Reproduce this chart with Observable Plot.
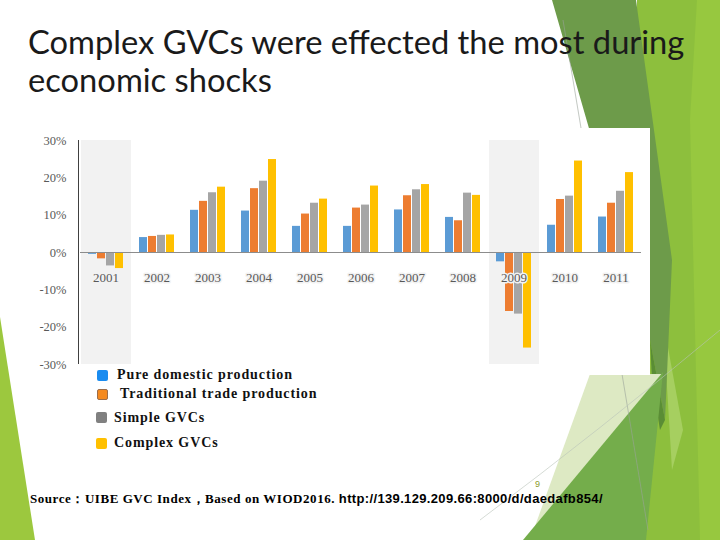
<!DOCTYPE html>
<html>
<head>
<meta charset="utf-8">
<script src="https://cdn.jsdelivr.net/npm/d3@7"></script>
<script src="https://cdn.jsdelivr.net/npm/@observablehq/plot@0.6"></script>
<style>
  html, body { margin: 0; padding: 0; background: #fff; }
  #slide { position: relative; width: 720px; height: 540px; overflow: hidden; background: #fff; }
  #deco { position: absolute; left: 0; top: 0; }
  #title { position: absolute; left: 28px; top: 23px; font-family: Lato, sans-serif; font-size: 32.7px; line-height: 38px; color: #1a1a1a; white-space: nowrap; }
  #chart { position: absolute; left: 30px; top: 128px; }
  #yline { position: absolute; left: 78px; top: 140px; width: 1px; height: 224px; background: #404040; }
  .leg { position: absolute; font-family: "Liberation Serif", serif; font-weight: bold; font-size: 14px; letter-spacing: 0.9px; color: #111; white-space: nowrap; line-height: 16px; }
  .sw { position: absolute; width: 11px; height: 11px; border-radius: 2px; }
  #source { position: absolute; left: 30px; top: 491px; font-size: 13px; line-height: 16px; color: #000; white-space: nowrap; font-weight: bold; }
  #source .s1 { font-family: "Liberation Serif", serif; letter-spacing: 0.55px; }
  #source .s2 { font-family: "Liberation Sans", sans-serif; font-size: 13px; letter-spacing: 0.35px; }
  #pnum { position: absolute; left: 535px; top: 479px; font-family: "Liberation Sans", sans-serif; font-size: 9px; line-height: 10px; color: #8c9b2c; }
</style>
</head>
<body>
<div id="slide">
  <svg id="deco" width="720" height="540">
    <polygon points="0,317 35,540 0,540" fill="#9cc83e"/>
    <polygon points="637,0 720,0 720,540 630,540" fill="#8dbf3d"/>
    <polygon points="697,0 720,0 720,540 700,540 690,120" fill="#97c83f"/>
    <polygon points="663,320 683,430 672,470" fill="#a6cf60"/>
    <polygon points="552,0 636,0 672,260 665,420 650,340" fill="#6d9b4a"/>
    <polygon points="650,340 665,420 660,430 652,380" fill="#5a8d35"/>
    <polygon points="590,374 662,374 548,540 530,540" fill="#dde9c3"/>
    <polygon points="523,540 663,372 646,540" fill="#74ad4b"/>
    <line x1="563" y1="20" x2="648" y2="530" stroke="#9aa39a" stroke-width="0.6"/>
    <path d="M480,520 Q600,430 720,330" fill="none" stroke="#b9c2b9" stroke-width="0.6"/>
  </svg>
  <div id="title">Complex GVCs were effected the most during<br>economic shocks</div>
  <div id="chart"></div>
  <div id="yline"></div>
  <div class="sw" style="left:97px;top:370px;background:#1a8cf0;"></div>
  <div class="leg" style="left:117px;top:367px;">Pure domestic production</div>
  <div class="sw" style="left:97px;top:389px;width:9px;height:9px;background:#f58a1f;border:1px solid #9c6d4a;"></div>
  <div class="leg" style="left:120px;top:386px;">Traditional trade production</div>
  <div class="sw" style="left:96px;top:412px;background:#808080;"></div>
  <div class="leg" style="left:114px;top:410px;">Simple GVCs</div>
  <div class="sw" style="left:96px;top:438px;background:#ffc000;"></div>
  <div class="leg" style="left:114px;top:435px;">Complex GVCs</div>
  <div id="pnum">9</div>
  <div id="source"><span class="s1">Source：UIBE GVC Index，Based on WIOD2016. </span><span class="s2">http://139.129.209.66:8000/d/daedafb854/</span></div>
</div>
<script>
const years = ["2001","2002","2003","2004","2005","2006","2007","2008","2009","2010","2011"];
const seriesNames = ["Pure domestic production","Traditional trade production","Simple GVCs","Complex GVCs"];
const pureDomestic = [-0.5, 4.0, 11.3, 11.1, 7.0, 7.0, 11.4, 9.4, -2.5, 7.3, 9.5];
const traditionalTrade = [-1.7, 4.3, 13.7, 17.1, 10.3, 11.9, 15.2, 8.5, -15.8, 14.2, 13.2];
const simpleGVCs = [-3.6, 4.6, 16.0, 19.1, 13.2, 12.7, 16.8, 15.9, -16.5, 15.1, 16.4];
const complexGVCs = [-4.3, 4.7, 17.5, 24.9, 14.3, 17.8, 18.2, 15.3, -25.6, 24.5, 21.4];
const shockYears = ["2001", "2009"];
const yTicks = [-30, -20, -10, 0, 10, 20, 30];
const barColors = ["#5b9bd5", "#ed7d31", "#a5a5a5", "#ffc000"];

const seriesValues = [pureDomestic, traditionalTrade, simpleGVCs, complexGVCs];
const table = [];
years.forEach((yr, i) => {
  seriesNames.forEach((s, j) => table.push({year: yr, series: s, value: seriesValues[j][i]}));
});

const chart = Plot.plot({
  width: 620,
  height: 247,
  marginLeft: 48,
  marginRight: 8,
  marginTop: 12,
  marginBottom: 11,
  style: {background: "white", fontFamily: "Liberation Serif, serif", fontSize: "12.5px", color: "#595959"},
  fx: {domain: years, padding: 0, axis: null, label: null},
  x: {domain: seriesNames, axis: null, paddingInner: 0.16, paddingOuter: 0.8},
  y: {domain: [-30, 30], ticks: yTicks, tickFormat: d => d + "%", tickSize: 0, tickPadding: 14, label: null},
  color: {domain: seriesNames, range: barColors},
  marks: [
    Plot.rect(shockYears, {fx: d => d, y1: -30, y2: 30, fill: "#f2f2f2", insetLeft: 1}),
    Plot.barY(table, {fx: "year", x: "series", y: "value", fill: "series"}),
    Plot.ruleY([0], {stroke: "#8c8c8c", strokeWidth: 1}),
    Plot.text(years, {fx: d => d, y: 0, dy: 25, text: d => d, fill: "#595959", fontSize: 13, stroke: "#f2f2f2", strokeWidth: 3})
  ]
});
document.getElementById("chart").appendChild(chart);
</script>
</body>
</html>
